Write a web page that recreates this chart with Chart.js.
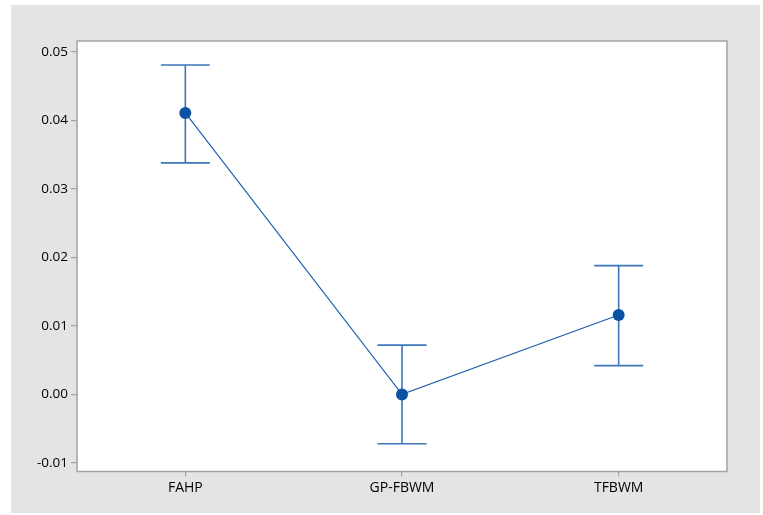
<!DOCTYPE html>
<html>
<head>
<meta charset="utf-8">
<script src="https://cdn.jsdelivr.net/npm/chart.js@4"></script>
<style>
  html, body { margin: 0; padding: 0; background: #ffffff; }
  #wrap { width: 763px; height: 515px; }
</style>
</head>
<body>
<div id="wrap"><canvas id="c" width="763" height="515"></canvas></div>
<script>
// Methods compared and their interval estimates
const categories = ['FAHP', 'GP-FBWM', 'TFBWM'];
const means = [0.0411, 0.0000, 0.0116];
const upperBounds = [0.0481, 0.0072, 0.0188];
const lowerBounds = [0.0338, -0.0072, 0.0042];
const yTicks = [-0.01, 0.00, 0.01, 0.02, 0.03, 0.04, 0.05];

const lineBlue = '#1f5fae';
const barBlue = '#3d77ba';
const dotBlue = '#0b52a4';
const axisGray = '#a3a3a3';
const labelFont = 'Open Sans';

// Grey panel behind the plot and the white plot area
const panelPlugin = {
  id: 'panel',
  beforeDraw(chart) {
    const { ctx, chartArea: a } = chart;
    ctx.save();
    ctx.fillStyle = '#ffffff';
    ctx.fillRect(0, 0, chart.width, chart.height);
    ctx.fillStyle = '#e4e4e4';
    ctx.fillRect(11, 5, 749, 508);
    ctx.fillStyle = '#ffffff';
    ctx.fillRect(a.left, a.top, a.right - a.left, a.bottom - a.top);
    ctx.restore();
  },
  afterDraw(chart) {
    const { ctx, chartArea: a } = chart;
    ctx.save();
    ctx.strokeStyle = axisGray;
    ctx.lineWidth = 1.5;
    ctx.strokeRect(a.left, a.top, a.right - a.left, a.bottom - a.top);
    ctx.restore();
  }
};

// Interval whiskers with end caps, positioned through the chart scales
const whiskerPlugin = {
  id: 'whiskers',
  beforeDatasetsDraw(chart) {
    const { ctx, scales: { x, y } } = chart;
    const cap = 24.5;
    ctx.save();
    ctx.strokeStyle = barBlue;
    ctx.lineWidth = 1.6;
    categories.forEach((c, i) => {
      const px = x.getPixelForValue(i);
      const yHi = y.getPixelForValue(upperBounds[i]);
      const yLo = y.getPixelForValue(lowerBounds[i]);
      ctx.beginPath();
      ctx.moveTo(px, yHi); ctx.lineTo(px, yLo);
      ctx.moveTo(px - cap, yHi); ctx.lineTo(px + cap, yHi);
      ctx.moveTo(px - cap, yLo); ctx.lineTo(px + cap, yLo);
      ctx.stroke();
    });
    ctx.restore();
  }
};

new Chart(document.getElementById('c'), {
  type: 'line',
  data: {
    labels: categories,
    datasets: [{
      data: means,
      borderColor: lineBlue,
      borderWidth: 1.2,
      pointRadius: 6,
      pointBackgroundColor: dotBlue,
      pointBorderColor: dotBlue,
      pointBorderWidth: 0,
      tension: 0,
      fill: false
    }]
  },
  options: {
    responsive: false,
    animation: false,
    events: [],
    layout: { padding: { left: 0, top: 41, right: 36, bottom: 0 } },
    plugins: { legend: { display: false }, tooltip: { enabled: false } },
    scales: {
      x: {
        type: 'category',
        offset: true,
        grid: { drawOnChartArea: false, drawTicks: true, tickLength: 5, color: axisGray, lineWidth: 1.2 },
        border: { display: false },
        ticks: { color: '#000000', font: { family: labelFont, size: 14 }, padding: 3, maxRotation: 0 },
        afterFit(scale) { scale.height = 43.5; }
      },
      y: {
        type: 'linear',
        min: -0.01126,
        max: 0.0516,
        grid: { drawOnChartArea: false, drawTicks: true, tickLength: 6, color: axisGray, lineWidth: 1.2 },
        border: { display: false },
        afterBuildTicks(scale) { scale.ticks = yTicks.map(v => ({ value: v })); },
        ticks: {
          color: '#000000',
          font: { family: labelFont, size: 13.5 },
          padding: 3,
          callback: v => Number(v).toFixed(2)
        },
        afterFit(scale) { scale.width = 77; }
      }
    }
  },
  plugins: [panelPlugin, whiskerPlugin]
});
</script>
</body>
</html>
